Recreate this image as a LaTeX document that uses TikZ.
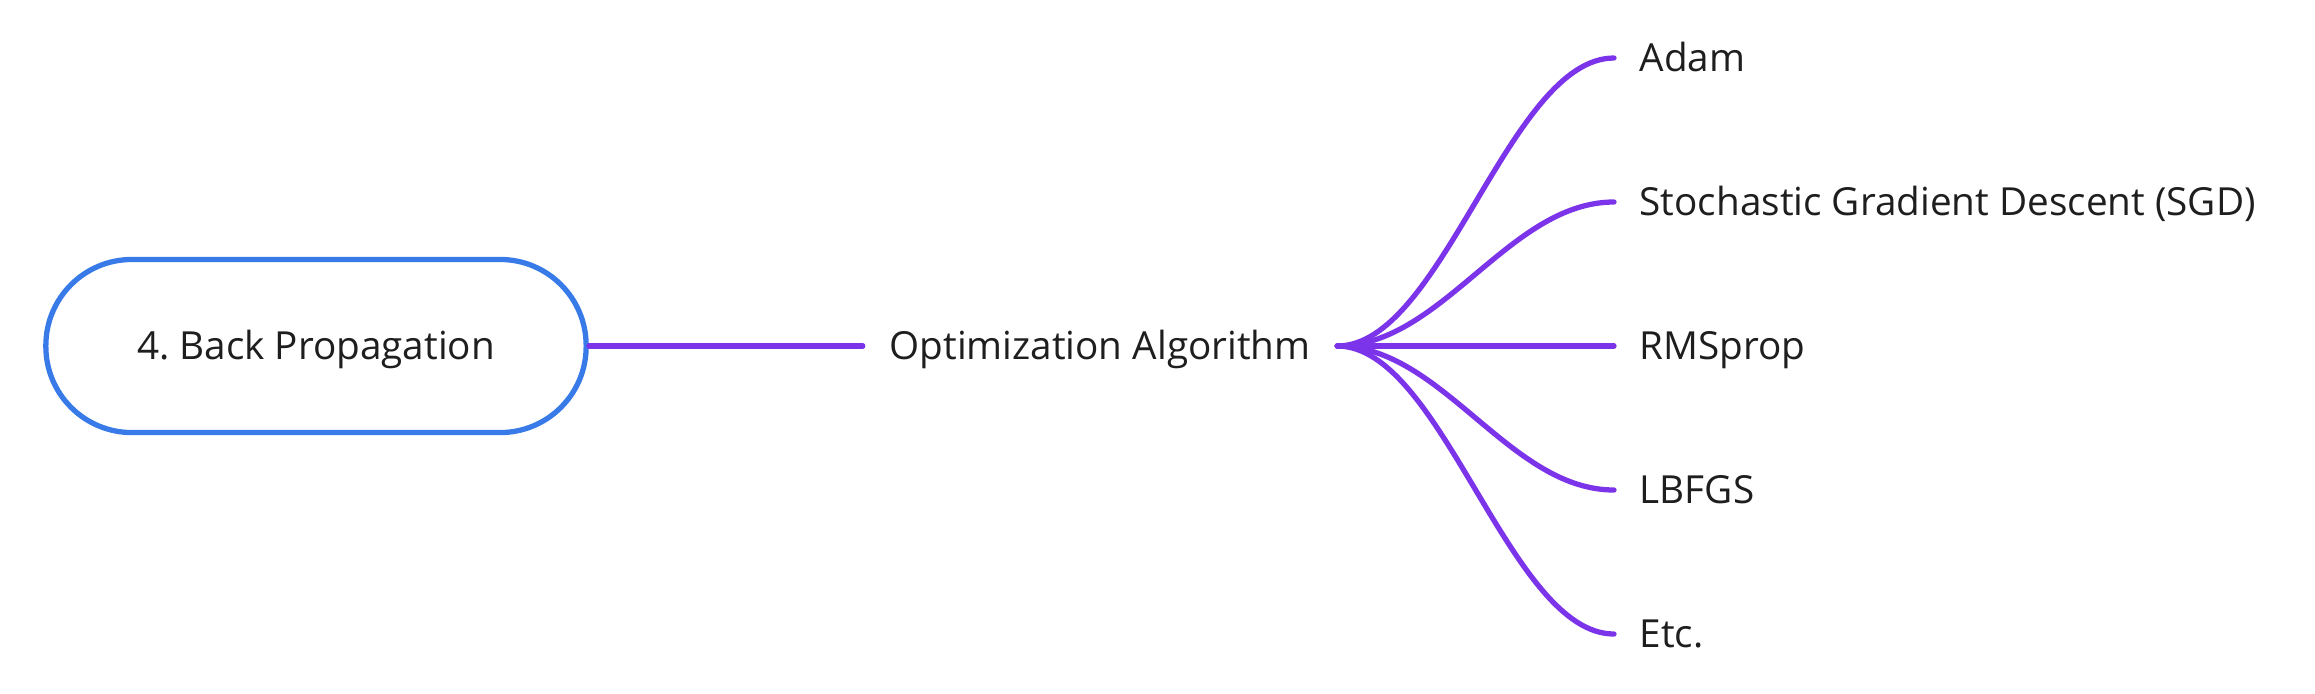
\documentclass[tikz,border=0pt]{standalone}
\usepackage{fontspec}
\setmainfont{Open Sans}
\usetikzlibrary{positioning}
\definecolor{boxblue}{RGB}{55,122,232}
\definecolor{linkviolet}{RGB}{124,52,234}
\definecolor{txtgray}{RGB}{30,30,30}

\begin{document}
\begin{tikzpicture}[x=0.01cm,y=-0.01cm]
\tikzstyle{every node}+=[font=\fontsize{11pt}{13pt}\selectfont, text=txtgray, text height=7.8pt, text depth=0pt]
\tikzstyle{topic}=[draw=boxblue, line width=1.5pt, rounded corners=0.86cm, minimum width=5.4cm, minimum height=1.73cm]
\tikzstyle{link}=[draw=linkviolet, line width=1.5pt, line cap=round]
\tikzstyle{leaf}=[anchor=west, inner xsep=0.25cm, inner ysep=0pt]
\useasboundingbox (0,0) rectangle (2315,693);
\node[topic] (bp) at (316,346) {4.\ Back Propagation};
\node[inner xsep=0.26cm] (opt) at (1100,346) {Optimization Algorithm};
\draw[link] (bp.east) -- (opt.west);
\foreach \name/\txt/\y in {adam/Adam/58, sgd/Stochastic Gradient Descent (SGD)/202, rms/RMSprop/346, lbfgs/LBFGS/490, etc/Etc./634}
{
  \node[leaf] (\name) at (1614,\y) {\txt};
  \draw[link] (opt.east) .. controls +(105,0) and +(-105,0) .. (\name.west);
}
\end{tikzpicture}
\end{document}
